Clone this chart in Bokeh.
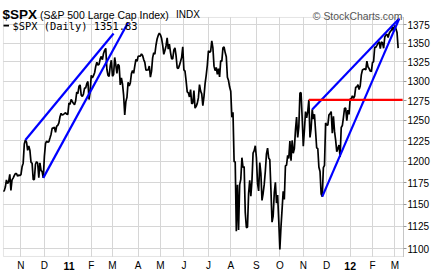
import pandas as pd
from bokeh.plotting import figure
from bokeh.models import Range1d, FixedTicker, NumeralTickFormatter, Label, BoxAnnotation
from bokeh.embed import file_html
from bokeh.resources import INLINE

# ---------------- data ----------------
holidays = ["2010-11-25", "2010-12-24", "2011-01-17", "2011-02-21", "2011-04-22",
            "2011-05-30", "2011-07-04", "2011-09-05", "2011-11-24", "2011-12-26",
            "2012-01-02", "2012-01-16", "2012-02-20"]

spx_close = [
    # Oct 2010 (from Oct 8)
    1165.15, 1165.32, 1169.77, 1178.10, 1173.81, 1176.19, 1184.71, 1165.90, 1178.17, 1180.26,
    1183.08, 1185.62, 1185.64, 1182.45, 1183.78, 1183.26,
    # Nov 2010
    1184.38, 1193.57, 1197.96, 1221.06, 1225.85, 1223.25, 1213.40, 1218.71, 1213.54, 1199.21,
    1197.75, 1178.34, 1178.59, 1196.69, 1199.73, 1197.84, 1180.73, 1198.35, 1189.40, 1187.76, 1180.55,
    # Dec 2010
    1206.07, 1221.53, 1224.71, 1223.12, 1223.75, 1228.28, 1233.00, 1240.40, 1240.46, 1241.59,
    1235.23, 1242.87, 1243.91, 1247.08, 1254.60, 1258.84, 1256.77, 1257.54, 1258.51, 1259.78,
    1257.88, 1257.64,
    # Jan 2011
    1271.87, 1270.20, 1276.56, 1273.85, 1271.50, 1269.75, 1274.48, 1285.96, 1283.76, 1293.24,
    1295.02, 1281.92, 1280.26, 1283.35, 1290.84, 1291.18, 1296.63, 1299.54, 1276.34, 1286.12,
    # Feb 2011
    1307.59, 1304.03, 1307.10, 1310.87, 1319.05, 1324.57, 1320.88, 1321.87, 1329.15, 1332.32,
    1328.01, 1336.32, 1340.43, 1343.01, 1315.44, 1307.40, 1306.10, 1319.88, 1327.22,
    # Mar 2011
    1306.33, 1308.44, 1330.97, 1321.15, 1310.13, 1321.82, 1320.02, 1295.11, 1304.28, 1296.39,
    1281.87, 1256.88, 1273.72, 1279.21, 1298.38, 1293.77, 1297.54, 1309.66, 1313.80, 1310.19,
    1319.44, 1328.26, 1325.83,
    # Apr 2011
    1332.41, 1332.87, 1332.63, 1335.54, 1333.51, 1328.17, 1324.46, 1314.16, 1314.41, 1314.52,
    1319.68, 1305.14, 1312.62, 1330.36, 1337.38, 1335.25, 1347.24, 1355.66, 1360.48, 1363.61,
    # May 2011
    1361.22, 1356.62, 1347.32, 1335.10, 1340.20, 1346.29, 1357.16, 1342.08, 1348.65, 1337.77,
    1329.47, 1328.98, 1340.68, 1343.60, 1333.27, 1317.37, 1316.28, 1320.47, 1325.69, 1331.10, 1345.20,
    # Jun 2011
    1314.55, 1312.94, 1300.16, 1286.17, 1284.94, 1279.56, 1289.00, 1270.98, 1271.83, 1287.87,
    1265.42, 1267.64, 1271.50, 1278.36, 1295.52, 1287.14, 1283.50, 1268.45, 1280.10, 1296.67,
    1307.41, 1320.64,
    # Jul 2011
    1339.67, 1337.88, 1339.22, 1353.22, 1343.80, 1319.49, 1313.64, 1317.72, 1308.87, 1316.14,
    1305.44, 1326.73, 1325.84, 1343.80, 1345.02, 1337.43, 1331.94, 1304.89, 1300.67, 1292.28,
    # Aug 2011
    1286.94, 1254.05, 1260.34, 1200.07, 1199.38, 1119.46, 1172.53, 1120.76, 1172.64, 1178.81,
    1204.49, 1192.76, 1193.89, 1140.65, 1123.53, 1123.82, 1162.35, 1177.60, 1159.27, 1176.80,
    1210.08, 1212.92, 1218.89,
    # Sep 2011
    1204.42, 1173.97, 1165.24, 1198.62, 1185.90, 1154.23, 1162.27, 1172.87, 1188.68, 1209.11,
    1216.01, 1204.09, 1202.09, 1166.76, 1129.56, 1136.43, 1162.95, 1175.38, 1151.06, 1160.40, 1131.42,
    # Oct 2011
    1099.23, 1123.95, 1144.03, 1164.97, 1155.46, 1194.89, 1195.54, 1207.25, 1203.66, 1224.58,
    1200.86, 1225.38, 1209.88, 1215.39, 1238.25, 1254.19, 1229.05, 1242.00, 1284.59, 1285.09, 1253.30,
    # Nov 2011
    1218.28, 1237.90, 1261.15, 1253.23, 1261.12, 1275.92, 1229.10, 1239.69, 1263.85, 1251.78,
    1257.81, 1236.91, 1216.13, 1215.65, 1192.98, 1188.04, 1161.79, 1158.67, 1192.55, 1195.19, 1246.96,
    # Dec 2011
    1244.58, 1244.28, 1257.08, 1258.47, 1261.01, 1234.35, 1255.19, 1236.47, 1225.73, 1211.82,
    1215.75, 1219.66, 1205.35, 1241.30, 1243.72, 1254.00, 1265.33, 1265.43, 1249.64, 1263.02, 1257.60,
    # Jan 2012
    1277.06, 1277.30, 1281.06, 1277.81, 1280.70, 1292.08, 1292.48, 1295.50, 1289.09, 1293.67,
    1308.04, 1314.50, 1315.38, 1316.00, 1314.65, 1326.06, 1318.43, 1316.33, 1313.01, 1312.41,
    # Feb 2012
    1324.09, 1325.54, 1344.90, 1344.33, 1347.05, 1349.96, 1351.95, 1342.64, 1351.77, 1350.50,
    1343.23, 1358.04, 1361.23, 1362.21, 1357.66, 1363.46, 1365.74, 1367.59, 1372.18, 1365.68,
    # Mar 2012
    1374.09, 1369.63, 1364.33, 1343.36,
]

month_starts = ["2010-11", "2010-12", "2011-01", "2011-02", "2011-03", "2011-04", "2011-05",
                "2011-06", "2011-07", "2011-08", "2011-09", "2011-10", "2011-11", "2011-12",
                "2012-01", "2012-02", "2012-03"]
month_labels = ["N", "D", "11", "F", "M", "A", "M", "J", "J", "A", "S", "O", "N", "D", "12", "F", "M"]
year_labels = ["11", "12"]

price_ticks = [1100, 1125, 1150, 1175, 1200, 1225, 1250, 1275, 1300, 1325, 1350, 1375]

# drawn trend lines: (dates, prices)
upper_2010_dates = ["2010-11-05", "2011-03-02"]
upper_2010_prices = [1226.0, 1363.0]
lower_2010_dates = ["2010-11-30", "2011-03-21"]
lower_2010_prices = [1180.55, 1378.0]
upper_2011_dates = ["2011-11-11", "2012-03-07"]
upper_2011_prices = [1263.85, 1383.5]
lower_2011_dates = ["2011-11-25", "2012-03-07"]
lower_2011_prices = [1158.67, 1383.5]
resist_dates = ["2011-11-08", "2012-03-12"]
resist_prices = [1275.9, 1275.9]

legend_text = "$SPX (Daily) 1351.83"

# plot-box extent (trading-day index, price)
box_x = (0.36, 358.8)
box_y = (1091.6, 1385.0)

# ---------------- calendar ----------------
cal = pd.bdate_range("2010-10-08", "2012-03-20")
cal = cal[~cal.isin(pd.to_datetime(holidays))]


def day_index(d):
    return int(cal.get_loc(pd.Timestamp(d)))


n = len(spx_close)
xs = list(range(n))
month_idx = [int(cal.searchsorted(pd.Timestamp(m + "-01"))) for m in month_starts]

# ---------------- figure ----------------
# frame spans the full height so that title and month labels can live inside it
FONT = "Liberation Sans"
W, H = 432, 270
p = figure(width=W, height=H, output_backend="svg", toolbar_location=None,
           y_axis_type="log", y_axis_location="right", x_axis_location=None,
           x_range=Range1d(-2.328, 358.8), y_range=Range1d(1076.48, 1408.65),
           min_border_left=0, min_border_right=29, min_border_top=0, min_border_bottom=0)
p.background_fill_color = "white"
p.border_fill_color = "white"
p.outline_line_color = None

yax = p.yaxis[0]
yax.bounds = box_y
yax.ticker = FixedTicker(ticks=price_ticks, minor_ticks=[])
yax.formatter = NumeralTickFormatter(format="0")
yax.major_label_text_font = FONT
yax.major_label_text_font_size = "10px"
yax.major_label_text_color = "black"
yax.axis_line_color = "#999999"
yax.axis_line_dash = "1 1"
yax.major_tick_line_color = "#999999"
yax.major_tick_out = 3
yax.major_tick_in = 0
yax.minor_tick_out = 0
yax.minor_tick_in = 0
yax.major_label_standoff = 1

GRID = "#d6d6d6"
yg, xg = p.ygrid[0], p.xgrid[0]
yg.ticker = FixedTicker(ticks=price_ticks, minor_ticks=[])
xg.ticker = FixedTicker(ticks=month_idx, minor_ticks=[])
yg.grid_line_color = GRID
xg.grid_line_color = GRID
try:
    yg.cross_bounds = box_x
    xg.cross_bounds = box_y
except Exception:
    xg.grid_line_color = None
    p.segment(x0=month_idx, x1=month_idx, y0=[box_y[0]] * len(month_idx),
              y1=[box_y[1]] * len(month_idx), line_color=GRID, line_width=1)

# plot box
p.add_layout(BoxAnnotation(left=box_x[0], right=box_x[1], bottom=box_y[0], top=box_y[1],
                           fill_alpha=0, line_color="#a8a8a8", line_width=1))

p.line(xs, spx_close, line_color="black", line_width=1.7)

for dts, prs, col in [(upper_2010_dates, upper_2010_prices, "#0000ff"),
                      (lower_2010_dates, lower_2010_prices, "#0000ff"),
                      (upper_2011_dates, upper_2011_prices, "#0000ff"),
                      (lower_2011_dates, lower_2011_prices, "#0000ff"),
                      (resist_dates, resist_prices, "#ff0000")]:
    p.line([day_index(d) for d in dts], prs, line_color=col, line_width=2.2)

# month labels (screen y measured up from the bottom of the frame = canvas bottom)
for mi, lab in zip(month_idx, month_labels):
    bold = lab in year_labels
    p.add_layout(Label(x=mi, y=5, x_units="data", y_units="screen", text=lab,
                       text_align="center", text_baseline="middle", text_font=FONT,
                       text_font_size="10.5px" if bold else "10px",
                       text_font_style="bold" if bold else "normal", text_color="black"))

# title
p.add_layout(Label(x=2, y=H - 14.3, x_units="screen", y_units="screen", text="$SPX",
                   text_font=FONT, text_font_size="13.5px", text_font_style="bold",
                   text_baseline="alphabetic", text_color="black"))
p.add_layout(Label(x=39.5, y=H - 14.3, x_units="screen", y_units="screen",
                   text="(S&P 500 Large Cap Index)", text_font=FONT, text_font_size="10.5px",
                   text_baseline="alphabetic", text_color="black"))
p.add_layout(Label(x=175.5, y=H - 14.3, x_units="screen", y_units="screen", text="INDX",
                   text_font=FONT, text_font_size="10px", text_baseline="alphabetic",
                   text_color="black"))
p.add_layout(Label(x=402, y=H - 16.3, x_units="screen", y_units="screen",
                   text="\u00a9 StockCharts.com", text_font=FONT, text_font_size="10.4px",
                   text_align="right", text_baseline="alphabetic", text_color="#555555"))

# legend
p.add_layout(BoxAnnotation(left=3, right=8.5, bottom=H - 26, top=H - 24.2,
                           left_units="screen", right_units="screen",
                           bottom_units="screen", top_units="screen",
                           fill_color="black", fill_alpha=1, line_color=None))
p.add_layout(Label(x=12, y=H - 25, x_units="screen", y_units="screen", text=legend_text,
                   text_font="DejaVu Sans Mono", text_font_size="10.4px",
                   text_baseline="middle", text_color="black"))

open("out.html", "w").write(file_html(p, INLINE))
